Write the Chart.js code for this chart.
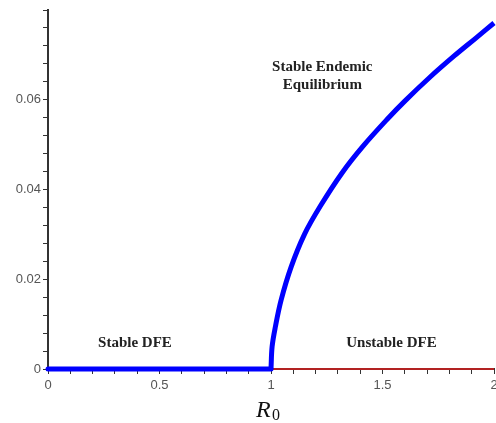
<!DOCTYPE html>
<html>
<head>
<meta charset="utf-8">
<script src="https://cdn.jsdelivr.net/npm/chart.js@4"></script>
<style>
html,body{margin:0;padding:0;background:#fff;}
#wrap{width:496px;height:423px;position:relative;}
</style>
</head>
<body>
<div id="wrap"><canvas id="c" width="496" height="423"></canvas></div>
<script>
// Stable disease-free equilibrium branch (blue, flat)
const stableDfeR0 = [0, 1];
const stableDfeVal = [0, 0];
// Endemic equilibrium branch (blue)
const endemicR0 = [1.0, 1.005, 1.02, 1.045, 1.09, 1.15, 1.22, 1.32, 1.41, 1.52, 1.6, 1.71, 1.82, 1.92, 2.0];
const endemicVal = [0, 0.005, 0.0095, 0.0153, 0.0227, 0.0300, 0.0362, 0.0438, 0.0495, 0.0556, 0.0597, 0.0649, 0.0697, 0.0738, 0.0771];
// Unstable DFE branch (red)
const unstableR0 = [1, 2];
const unstableVal = [0, 0];
// Axis ticks
const xMajorTicks = [0, 0.5, 1, 1.5, 2];
const yMajorTicks = [0, 0.02, 0.04, 0.06];
// Region annotations
const annotations = [
  {lines: ["Stable DFE"], x: 0.39, y: 0.0058},
  {lines: ["Unstable DFE"], x: 1.54, y: 0.0058},
  {lines: ["Stable Endemic", "Equilibrium"], x: 1.23, y: 0.0673}
];

const isMajor = (v, list) => list.some(t => Math.abs(t - v) < 1e-9);

const annPlugin = {
  id: 'ann',
  afterDraw(chart) {
    const ctx = chart.ctx, xs = chart.scales.x, ys = chart.scales.y;
    ctx.save();
    ctx.fillStyle = '#222';
    ctx.font = 'bold 15px "Liberation Serif", "Times New Roman", serif';
    ctx.textAlign = 'center';
    ctx.textBaseline = 'middle';
    annotations.forEach(a => {
      const px = xs.getPixelForValue(a.x), py = ys.getPixelForValue(a.y);
      a.lines.forEach((l, i) => ctx.fillText(l, px, py + i * 18));
    });
    // axis title R0
    const cx = xs.getPixelForValue(1) - 4;
    ctx.textAlign = 'left';
    ctx.textBaseline = 'alphabetic';
    ctx.fillStyle = '#111';
    ctx.font = 'italic 24px "Liberation Serif", "Times New Roman", serif';
    ctx.fillText('R', cx - 11, 417);
    ctx.font = '16px "Liberation Serif", "Times New Roman", serif';
    ctx.fillText('0', cx + 5, 420);
    ctx.restore();
  }
};

new Chart(document.getElementById('c'), {
  type: 'line',
  data: {
    datasets: [
      {
        data: endemicR0.map((x, i) => ({x, y: endemicVal[i]})),
        borderColor: '#0000ff', borderWidth: 5, pointRadius: 0, tension: 0.35,
        clip: false, fill: false, borderJoinStyle: 'round'
      },
      {
        data: stableDfeR0.map((x, i) => ({x, y: stableDfeVal[i]})),
        borderColor: '#0000ff', borderWidth: 5, pointRadius: 0, clip: false, fill: false,
        borderCapStyle: 'round'
      },
      {
        data: unstableR0.map((x, i) => ({x, y: unstableVal[i]})),
        borderColor: '#b22222', borderWidth: 2, pointRadius: 0, clip: false, fill: false
      }
    ]
  },
  options: {
    responsive: false,
    animation: false,
    layout: {padding: {left: 0, right: 2, top: 10, bottom: 0}},
    plugins: {legend: {display: false}, tooltip: {enabled: false}},
    scales: {
      x: {
        type: 'linear', min: 0, max: 2,
        afterFit(s) { s.height = 54; s.paddingRight = 0; s.paddingLeft = 0; },
        border: {display: true, color: '#333', width: 2},
        grid: {drawOnChartArea: false, drawTicks: true, tickLength: 5, color: '#333'},
        ticks: {
          stepSize: 0.1, autoSkip: false, maxRotation: 0, padding: 4,
          color: '#555', font: {family: '"Liberation Sans", Arial, sans-serif', size: 13},
          callback: v => isMajor(v, xMajorTicks) ? String(Math.round(v * 10) / 10) : ''
        }
      },
      y: {
        min: 0, max: 0.08,
        afterFit(s) { s.width = 48; s.paddingTop = 0; s.paddingBottom = 0; },
        border: {display: true, color: '#333', width: 2},
        grid: {drawOnChartArea: false, drawTicks: true, tickLength: 5, color: '#333'},
        ticks: {
          stepSize: 0.004, autoSkip: false, maxTicksLimit: 100, padding: 2,
          color: '#555', font: {family: '"Liberation Sans", Arial, sans-serif', size: 13},
          callback: v => isMajor(v, yMajorTicks) ? String(Math.round(v * 100) / 100) : ''
        }
      }
    }
  },
  plugins: [annPlugin]
});
</script>
</body>
</html>
